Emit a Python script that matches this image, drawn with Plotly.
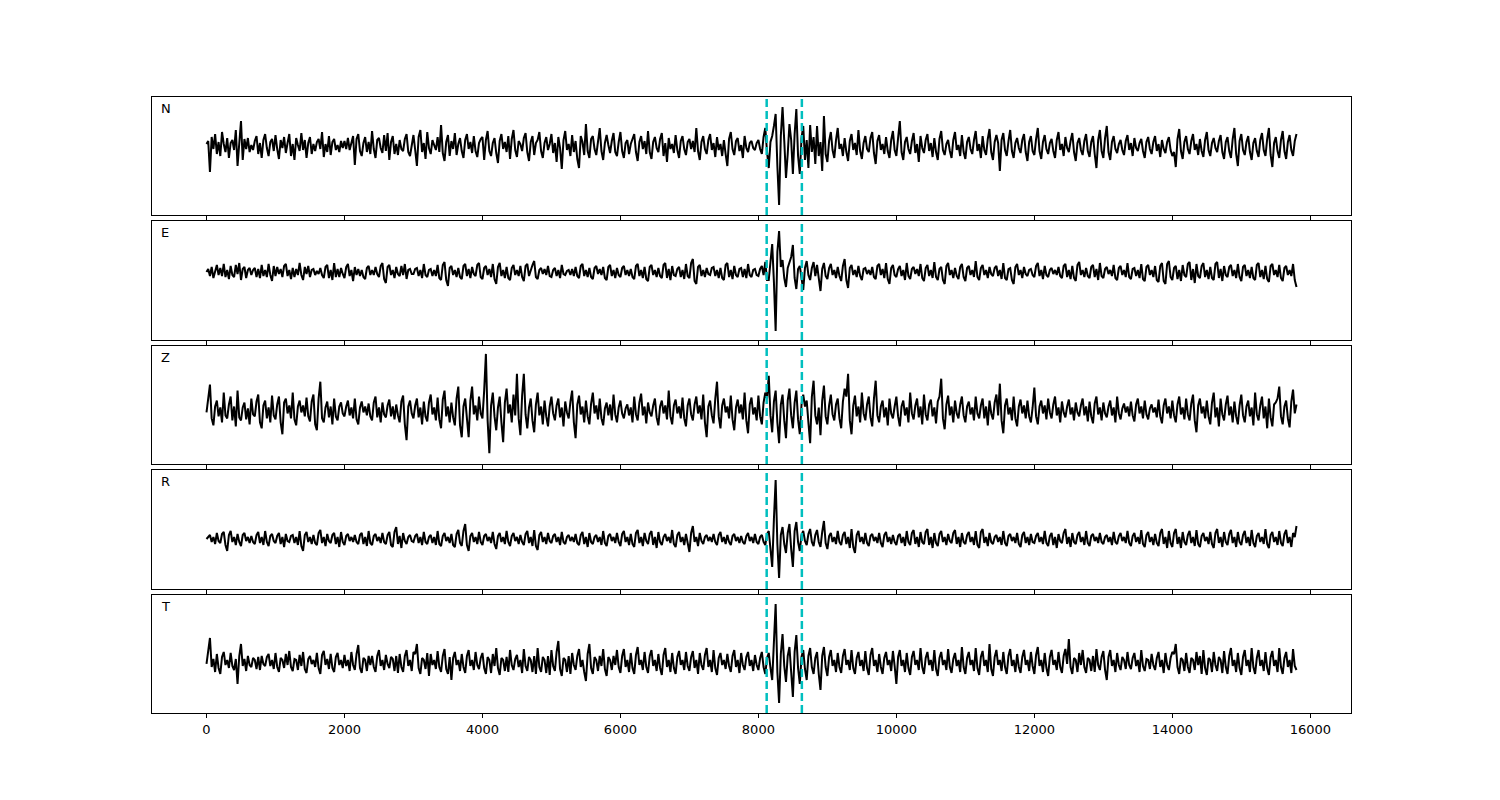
import plotly.graph_objects as go

# sample spacing of the traces (x units)
dt = 25

channels = ["N", "E", "Z", "R", "T"]

N = [2, 5, -26, 9, -3, 12, -8, 4, -10, 14, 2, -6, 8, -12, 3, 6, -4, 16, -20, 5, 25, -14, 7, -3, 8, -6, 1, -4, 5, 10, -8, 3, -12, 6, 12, -2, -10, 4, 7, -5,
     11, -3, -13, 6, -2, 9, -7, 3, 12, -10, 2, -14, 8, 1, -5, 13, -4, 6, -12, 3, 9, -8, 2, -5, 4, 7, -3, 14, -11, 2, -6, 10, -9, 4, 7, -4, 1, -6, 5, -2,
     5, -3, 8, -4, 2, 10, -19, 7, 12, -5, -10, 3, 9, -6, 4, -8, 15, -3, -12, 6, 8, -2, -7, 11, -5, 13, -14, 4, 10, -8, 2, -9, 6, -3, -5, 7, 12, -6, -10, 3,
     11, -4, -20, 9, 16, -6, 3, -13, 14, -2, -8, 6, 1, -4, 9, -6, 21, -7, -15, 4, 11, -10, 5, -3, 13, -9, 2, 8, -5, -12, 6, 12, -3, 4, -7, 10, -5, -11, 3, 7,
     9, -14, 6, 15, -5, -10, 3, 8, -7, -17, 5, 12, -3, 4, -6, 10, -13, 7, 16, -4, -11, 5, 2, -5, 8, 13, -6, -15, 4, 10, -9, 3, 6, 14, -5, -12, 3, 9, -4, 2,
     12, -7, 3, -16, 9, -2, -23, 6, 15, -4, 2, -10, 11, -6, 5, -13, -22, 10, 4, -9, 22, -5, -12, 7, 10, -3, -9, 6, 18, -5, -14, 3, 11, 1, -7, 5, 13, -6, -10, 4,
     14, -5, -12, 3, 6, -8, 2, 7, 12, -6, -15, 4, 10, -3, 5, -8, 15, -6, -13, 4, 9, -2, -6, 7, 13, -10, 3, -16, 8, -3, 2, -7, 11, -4, -12, 5, 10, -3, -9, 4,
     7, -3, 5, -6, 18, -5, -14, 4, 10, -3, -8, 6, 12, -4, 3, -11, 9, -4, 2, -10, 6, -8, -20, 7, 14, -3, -9, 5, 8, -5, 1, -12, 10, -2, -6, 3, 5, -2, -4, 3,
     6, -3, -8, 9, 18, -6, -22, 4, 10, 20, 32, -20, -59, 10, 39, 5, -32, -8, 22, 6, -28, 12, 37, -10, -28, 8, 20, -14, 6, -22, 21, -6, 9, -18, 20, -10, 4, -25, 30, -8,
     -16, 5, 14, -4, -12, 6, 18, -3, 2, -10, 8, -6, -15, 5, 12, -4, 3, -9, 16, -5, -13, 3, 10, -3, -6, 8, 14, -7, -18, 5, 11, -4, 2, -8, 9, -5, -12, 6, 15, -4,
     -10, 8, 25, -6, -14, 4, 9, -3, -8, 5, 13, -7, 2, -16, 10, -2, -7, 6, 12, -5, 3, -11, 8, -6, -14, 7, 15, -4, -9, 2, 6, -5, -12, 6, 14, -4, 1, -10, 11, -6,
     -13, 4, 9, -3, -8, 6, 15, -5, 2, -12, 10, -4, -9, 7, 17, -6, -14, 4, 11, 3, -25, 6, 13, -4, -10, 5, 16, -5, -12, 3, 8, -2, -7, 6, 12, -6, -15, 4, 10, -5,
     -9, 7, 18, -5, -13, 4, 11, -3, -8, 3, 7, -5, -12, 6, 14, -4, 2, -10, 9, -2, -6, 5, 13, -6, -15, 3, 8, -4, -9, 5, 12, -5, -11, 4, 10, -8, -22, 6, 16, -5,
     -12, 8, 20, -6, -14, 4, 10, -3, -7, 2, 6, -4, -9, 5, 11, -4, 3, -10, 8, -2, -5, 3, 7, -5, -12, 4, 9, -3, -8, 4, 10, -5, 2, -11, 6, -3, -7, 4, 9, -4,
     -10, -6, -21, 7, 17, -5, -13, 4, 10, -3, -8, 5, 12, -4, 2, -9, 7, -5, -11, 6, 14, -4, -10, 3, 8, -2, -6, 5, 11, -6, -13, 4, 9, -5, -12, 7, 18, -8, -20, 5,
     12, -4, -9, 4, 10, -6, -14, 3, 8, -5, -11, 6, 13, -4, -10, 7, 18, -9, -21, 3, 9, -5, -12, 6, 15, -5, -13, 4, 11, -4, -10, 5, 12]

E = [0, 3, -4, 5, -6, 2, 7, -3, 4, -4, 8, -5, 2, -7, 6, -3, -5, 7, -2, 9, -8, 3, 5, -6, 2, 4, -3, 2, 4, -5, 3, -6, 7, -4, 2, -5, 8, -3, -9, 6,
     -4, 5, -2, 3, -5, 6, 8, -4, 2, -7, 4, -5, 3, -3, 9, -3, -8, 5, -2, 6, -5, 2, 3, -3, 1, -2, 4, -3, -6, 5, 7, -6, 2, -8, 9, -5, 3, -5, 4, -2,
     -6, 5, 8, -4, 2, -9, 5, -3, 3, -4, 2, -5, -7, 4, 6, -3, 2, -3, 5, -2, -5, 6, 9, -7, -11, 5, 7, -3, 2, -6, 5, -2, -4, 6, -3, 8, -7, 2, 3, -2,
     -2, 3, 4, -4, 2, -6, 8, -3, -5, 2, 3, -4, 2, -4, 7, -6, -8, 7, 10, -8, -14, 4, 6, -3, 2, -5, 4, -5, -7, 6, 8, -4, 3, -6, 5, -2, -4, 7, 9, -5,
     -7, 4, 6, -3, 3, -5, 8, -7, -12, 5, 9, -4, 2, -6, 5, -6, -8, 4, 7, -3, 2, -4, 6, -5, -9, 6, 8, -4, 3, 7, 11, -5, -7, 2, 4, -2, 3, -3, 6, -4,
     -5, 2, 4, -4, 2, -6, 7, -2, -3, 1, 2, -3, 3, -4, 5, -4, -6, 6, 8, -4, 2, -5, 4, -5, -7, 4, 6, -2, 3, -3, 5, -6, -8, 5, 7, -4, 2, -6, 4, -3,
     -5, 4, 6, -3, 2, -4, 3, -5, -7, 6, 8, -4, 2, -6, 5, -7, -9, 5, 7, -3, 2, -5, 4, -4, -6, 7, 9, -6, 3, -8, 6, -3, -4, 3, 5, -5, 2, -7, 8, -4,
     -6, 9, 13, -9, -12, 5, 7, -4, 2, -5, 4, -2, -3, 4, 5, -4, 2, -6, 4, -6, -8, 7, 9, -5, 2, -7, 6, -3, -5, 3, 4, -5, 3, -6, 8, -3, -5, 2, 3, -3,
     -4, 3, 6, -3, 10, -8, -8, 12, 28, -10, -59, 20, 41, 5, 12, -6, -15, 4, 10, 15, 27, -6, -17, 3, 6, -5, -18, 4, 11, -3, -8, 4, 10, -4, 7, -6, -19, 3, 9, -4,
     -7, 4, 8, -3, 2, -6, 5, -4, -9, 6, 13, -8, -16, 4, 7, -3, 2, -5, 6, -4, -8, 3, 4, -2, 2, -3, 5, -5, -7, 6, 8, -3, 3, -6, 9, -7, -12, 4, 7, -3,
     -5, 3, 6, -4, 2, -8, 9, -4, -7, 3, 5, -2, 3, -4, 8, -6, -9, 4, 7, -4, 2, -6, 10, -5, -8, 3, 5, -8, -12, 6, 9, -3, 2, -6, 4, -4, -7, 5, 8, -5,
     -9, 4, 6, -3, 2, -5, 11, -5, -8, 4, 7, -3, 2, -6, 5, -2, -4, 4, 6, -4, 2, -7, 9, -6, -8, 3, 4, -8, -12, 5, 8, -3, 2, -6, 5, -2, -4, 2, 3, -3,
     -5, 6, 9, -4, 2, -7, 6, -3, -5, 2, 4, -2, 2, -3, 5, -4, -6, 6, 8, -5, 2, -7, 6, -6, -9, 7, 10, -3, 2, -5, 4, -4, -6, 5, 7, -5, 3, -8, 9, -4,
     -6, 3, 5, -2, 2, -4, 7, -6, -8, 4, 6, -3, 2, -5, 9, -5, -7, 3, 4, -4, 2, -6, 8, -7, -9, 5, 7, -3, 2, -5, 6, -8, -10, 6, 9, -9, -12, 8, 11, -5,
     -8, 4, 6, -7, 2, -9, 7, -3, -5, 8, 10, -8, 3, -11, 8, -4, -6, 6, 9, -5, 2, -7, 5, -6, -8, 8, 10, -6, 3, -9, 6, -3, -5, 5, 7, -4, 2, -6, 8, -5,
     -9, 5, 7, -4, 2, -6, 5, -6, -8, 7, 9, -5, 2, -7, 6, -7, -10, 6, 8, -3, 2, -5, 7, -6, -9, 4, 6, -3, 2, -4, 8, -8, -15]

Z = [-2, 10, 26, -8, -15, 4, 10, -6, 3, -12, 18, -5, -8, 6, 14, -10, 4, -16, 20, -7, -10, 3, 8, -9, 2, -14, 12, -4, -6, 9, 16, -12, -18, 5, 10, -8, 3, -12, 15, -5,
     -9, 6, 14, -12, -24, 8, 12, -3, 5, -8, 18, -9, -15, 4, 10, -2, 5, -6, 13, -6, -11, 9, 16, -14, -20, 12, 29, -8, -12, 3, 9, -7, 4, -14, 12, -6, -10, 4, 8, -3,
     -6, 4, 10, -5, 3, -8, 12, -9, -14, 3, 9, -2, 4, -5, 7, -6, -10, 8, 14, -7, 3, -12, 8, -4, -7, 5, 11, -6, 4, -9, 6, -5, -12, 9, 15, -14, -30, 4, 10, -3,
     -8, 5, 12, -7, 3, -14, 9, -6, -11, 8, 16, -4, 3, -10, 13, -9, -18, 11, 20, -6, 4, -12, 8, -7, -15, 12, 24, -15, -27, 4, 12, -8, -27, 10, 24, -4, 5, -10, 14, -3,
     -8, 20, 57, -10, -43, 5, 18, -6, -20, 3, 14, -12, -32, 8, 22, -3, 6, -12, 16, -5, 37, -8, -25, 15, 37, -4, -18, 3, 12, -10, -22, 6, 18, -5, 4, -14, 10, -6, -16, 4,
     14, -3, -10, 5, 12, -7, 3, -16, 9, -2, -8, 9, 20, -12, -28, 6, 15, -4, 4, -12, 10, -6, -14, 7, 18, -3, 5, -9, 12, -8, -15, 2, 8, -5, 6, -10, 16, -4, -12, 3,
     10, -3, -8, 2, 6, -5, 3, -12, 14, -4, -10, 8, 17, -5, 4, -13, 8, -2, -6, 5, 12, -7, -15, 4, 10, -3, 5, -9, 20, -6, -14, 5, 11, -3, 4, -8, 13, -8, -16, 5,
     12, -4, -10, 6, 14, -3, 5, -9, 16, -12, -27, 4, 10, -5, -13, 12, 29, -6, -18, 5, 12, -2, 4, -8, 15, -9, -20, 3, 11, -3, 6, -9, 18, -10, -23, 6, 13, -4, 3, -10,
     15, -6, -14, 8, 18, 12, 35, -5, -22, 9, 20, -12, -33, 6, 16, -10, -28, 10, 22, -5, -18, 8, 20, -9, -24, 6, 16, 4, 10, -12, -33, 14, 30, -5, -14, 3, -25, 10, 25, -6,
     -14, 5, 16, -4, -10, 6, 12, -8, -18, 9, 22, 14, 37, -10, -24, 5, 15, -6, 4, -12, 18, -3, -10, 6, 14, -7, -16, 12, 30, -5, -12, 4, 10, -7, 3, -15, 12, -3, -8, 4,
     14, -6, -16, 4, 10, -5, 3, -12, 18, -3, -9, 5, 12, -7, 4, -14, 16, -4, -10, 6, 11, -6, 3, -13, 9, 14, 32, -8, -19, 6, 15, -5, 4, -12, 10, -3, -8, 6, 14, -5,
     -12, 4, 9, -4, 3, -10, 14, -3, -8, 5, 12, -8, 4, -15, 10, -3, -9, 8, 16, -5, 27, -10, -23, 5, 12, -4, 3, -10, 14, -8, -16, 4, 11, -3, 5, -8, 10, -6, -12, 3,
     23, -6, -14, 4, 10, -3, 5, -9, 12, -2, -8, 6, 14, -5, 3, -12, 9, -2, -7, 4, 11, -4, 3, -10, 8, -2, -6, 5, 12, -5, 4, -11, 9, -6, -13, 7, 14, -4, 3, -10,
     8, -3, -7, 4, 10, -5, 3, -12, 14, -3, -9, 2, 7, -2, 4, -6, 9, -5, -11, 6, 12, -3, 4, -8, 10, -4, -9, 2, 6, -2, 3, -7, 11, -6, -13, 5, 12, -3, 4, -8,
     10, -5, -12, 6, 14, -4, 3, -9, 12, -4, -10, 7, 16, -10, -22, 5, 12, -3, 4, -8, 10, -6, -14, 8, 18, -7, 3, -16, 12, -4, -10, 6, 15, -5, 4, -12, 9, -6, -14, 5,
     16, -5, -12, 4, 10, -6, 3, -15, 18, -4, -10, 5, 14, -8, 4, -18, 12, -7, -16, 6, 8, 12, 24, -6, -14, 4, 10, -8, -17, 9, 21, -3, 6]

R = [0, 2, 4, -3, 2, -5, 6, -2, -4, 5, 7, -6, -12, 4, 8, -3, 2, -6, 5, -3, -7, 4, 6, -2, 2, -4, 3, -3, -5, 4, 7, -4, 2, -6, 8, -3, -7, 3, 5, -2,
     -4, 3, 6, -5, 2, -8, 5, -2, -3, 3, 4, -4, 2, -6, 8, -7, -12, 4, 7, -3, 2, -5, 4, -4, -6, 6, 9, -4, 2, -7, 5, -2, -4, 4, 6, -5, 2, -8, 7, -3,
     -6, 3, 5, -2, 2, -3, 4, -3, -5, 4, 6, -5, 2, -7, 8, -4, -6, 3, 5, -2, 2, -4, 6, -3, -5, 4, 7, -6, -8, 7, 12, -5, 3, -9, 6, -2, -5, 2, 4, -2,
     -3, 3, 5, -4, 2, -6, 7, -3, -5, 2, 4, -4, 2, -6, 8, -5, -7, 3, 6, -2, 2, -4, 5, -6, -8, 5, 9, -4, -7, 8, 15, -6, -12, 3, 6, -3, 2, -5, 7, -3,
     -6, 3, 5, -2, 2, -4, 7, -5, -10, 3, 6, -3, 2, -5, 8, -3, -7, 3, 6, -2, 2, -5, 4, -3, -6, 5, 8, -4, 2, -7, 9, -7, -11, 4, 7, -3, 2, -5, 6, -2,
     -4, 3, 5, -3, 2, -6, 7, -3, -5, 2, 4, -2, 2, -3, 5, -4, -6, 4, 7, -5, 2, -8, 6, -3, -5, 2, 4, -3, 2, -6, 8, -4, -7, 3, 5, -2, 2, -4, 6, -3,
     -7, 5, 8, -3, 2, -6, 5, -5, -8, 6, 9, -4, 2, -7, 6, -2, -5, 5, 8, -6, 2, -9, 7, -3, -6, 2, 5, -2, 2, -4, 9, -5, -8, 4, 7, -3, 2, -6, 5, -4,
     -13, 6, 13, -3, 2, -7, 6, -2, -5, 2, 4, -2, 2, -3, 5, -3, -6, 4, 7, -3, 2, -5, 4, -3, -6, 3, 5, -2, 2, -4, 3, -3, -5, 3, 6, -2, 2, -4, 5, -3,
     -5, 2, 4, -3, -6, 5, 8, -10, -28, 20, 59, -5, -39, 4, 12, -5, -14, 6, 15, -10, -28, 8, 17, -3, -12, 4, 8, -2, -6, 5, 10, -3, -7, 4, 9, -3, -8, 7, 18, -4,
     -10, 3, 6, -3, 2, -5, 8, -3, -6, 4, 7, -5, 2, -9, 10, -8, -14, 4, 8, -3, 2, -5, 6, -4, -7, 3, 5, -2, 2, -4, 6, -4, -8, 4, 7, -3, 2, -5, 4, -3,
     -6, 3, 5, -4, 2, -7, 8, -3, -6, 6, 9, -5, 2, -8, 7, -3, -5, 7, 10, -6, 2, -9, 6, -4, -7, 5, 8, -3, 2, -6, 5, -2, -4, 6, 9, -5, 2, -8, 6, -3,
     -5, 4, 7, -3, 2, -6, 8, -6, -9, 7, 10, -4, 2, -7, 6, -3, -5, 2, 4, -3, 2, -6, 8, -4, -7, 3, 5, -2, 2, -4, 6, -5, -8, 4, 7, -4, 2, -6, 5, -3,
     -4, 3, 6, -3, 2, -5, 8, -4, -7, 3, 6, -6, 2, -9, 5, -2, -4, 6, 10, -5, 2, -8, 6, -3, -5, 4, 7, -3, 2, -6, 8, -4, -7, 3, 5, -2, 2, -4, 6, -3,
     -5, 2, 4, -3, 2, -6, 7, -3, -5, 3, 6, -2, 2, -4, 8, -4, -7, 3, 6, -3, 2, -5, 9, -5, -8, 4, 7, -3, 2, -6, 5, -4, -7, 6, 10, -5, 2, -9, 8, -4,
     -8, 6, 10, -5, 2, -9, 7, -3, -6, 4, 8, -4, 2, -7, 9, -5, -8, 3, 6, -2, 2, -5, 7, -5, -9, 6, 10, -4, 2, -8, 7, -3, -6, 5, 9, -4, 2, -8, 7, -3,
     -6, 4, 8, -4, 2, -7, 9, -4, -8, 3, 6, -3, 2, -5, 10, -5, -9, 4, 7, -3, 2, -6, 8, -4, -7, 5, 9, -4, 2, -8, 6, 2, 13]

T = [-2, 10, 24, -5, 3, -10, 8, -6, -12, 5, 10, -3, 2, -6, 9, -4, -8, 3, -22, 6, 18, -4, 3, -9, 6, -3, -5, 4, 2, -7, 5, -8, 6, -2, -4, 5, 8, -4, 2, -7,
     9, -5, -10, 4, 2, -6, 8, -3, 11, -5, -9, 3, 2, -8, 7, -4, 10, -7, -11, 3, 6, -2, 2, -5, 9, -6, -12, 7, 11, -3, 3, -7, 8, -6, -10, 5, 9, -3, 2, -6,
     7, -4, 2, -9, 10, -3, -8, 8, 17, -6, -11, 4, 2, -9, 6, -3, 6, -5, -10, 6, 12, -4, 2, -8, 7, -2, -6, 5, 3, -9, 6, -11, 8, -5, -10, 6, 12, -4, 2, -9,
     10, 8, 18, -6, -12, 4, 2, -7, 9, -14, 8, -3, 2, -7, 11, -5, -10, 6, 13, -7, -12, 5, -18, 4, 10, -3, 2, -9, 8, -5, -11, 6, 12, -4, 2, -8, 10, -3, -7, 4,
     9, -6, -12, 5, 2, -11, 8, -4, 14, -6, -13, 4, 2, -9, 5, -10, 12, -3, -8, 3, 7, -5, 2, -11, 13, -4, -9, 5, 2, -10, 6, -12, 14, -5, -10, 5, 2, -11, 6, -13,
     12, -4, -9, 10, 21, -7, -14, 4, 2, -10, 6, -12, 9, -3, -8, 6, 13, -5, 2, -10, -19, 8, 18, -6, -12, 5, 2, -9, 6, -4, 13, -7, -14, 5, 2, -8, 6, -3, 12, -5,
     -11, 6, 13, -5, 2, -10, 9, -6, -12, 7, 15, -3, 2, -8, 10, -5, -11, 6, 12, -4, 2, -9, 8, -6, -13, 7, 14, -5, 2, -10, 9, -6, -12, 5, 11, -3, 2, -8, 10, -4,
     -9, 5, 11, -6, 2, -12, 9, -3, -8, 7, 14, -5, 2, -10, 12, -6, -13, 4, 9, -3, 2, -7, 8, -4, -10, 6, 12, -5, 2, -11, 9, -3, -8, 5, 10, -4, 2, -9, 7, -3,
     -8, 4, 10, -5, -12, 4, 9, -6, -18, 20, 58, -10, -41, 8, 28, -4, -20, 6, 15, -10, -35, 10, 27, -6, -22, 5, 12, -7, -18, 6, 14, -5, -12, 4, 10, -12, -28, 6, 15, -5,
     -14, 5, 12, -4, 2, -10, 9, -5, -11, 6, 13, -3, 2, -8, 12, -6, -12, 4, 10, -4, 2, -9, 11, -6, -13, 7, 14, -4, 2, -10, 8, -5, -12, 4, 10, -3, 2, -9, 11, -4,
     -22, 5, 12, -4, 2, -10, 9, -6, -13, 5, 11, -3, 2, -8, 14, -5, -12, 4, 10, -3, 2, -9, 12, -7, -14, 4, 10, -3, 2, -8, 13, -5, -11, 3, 9, -4, 2, -10, 15, -5,
     -12, 4, 10, -3, 2, -9, 14, -6, -13, 5, 11, -4, 2, -10, 18, -7, -14, 5, 12, -3, 2, -9, 10, -5, -12, 6, 13, -4, 2, -10, 8, -5, -11, 5, 12, -3, 2, -9, 10, -4,
     -12, 7, 15, -4, 2, -10, 9, -6, -14, 5, 12, -3, 2, -8, 10, -5, -11, 6, 13, -2, 23, -5, -12, 4, 2, -10, 9, -3, 12, -5, -11, 4, 2, -9, 6, -10, 13, -3, -8, 5,
     11, -8, -18, 5, 12, -4, 2, -10, 9, -3, -8, 5, 2, -7, 10, -3, -7, 4, 9, -4, 2, -10, 12, -4, -9, 3, 2, -7, 8, -3, -8, 4, 10, -5, 2, -11, 9, -3, -8, 4,
     10, 8, 18, -5, -12, 4, 2, -9, 9, -5, -11, 4, 2, -8, 10, -3, 6, -12, 12, -6, -13, 4, 2, -10, 10, -3, -9, 5, 2, -11, 11, -5, -12, 6, 14, -4, 2, -10, 9, -6,
     -13, 5, 12, -4, 2, -10, 14, -5, -12, 4, 12, -4, 2, -9, 10, -6, -13, 5, 11, -4, 2, -10, 14, -5, -12, 4, 10, -5, 2, -11, 13, -4, -8]

series = [N, E, Z, R, T]

# picked phase markers (x units)
picks = [8120, 8630]

x_ticks = [0, 2000, 4000, 6000, 8000, 10000, 12000, 14000, 16000]
x_tick_text = ["0", "2000", "4000", "6000", "8000", "10000", "12000", "14000", "16000"]

# ---- layout constants (panel placement / axis limits) ----
y_ranges = [[-69, 49], [-68, 51], [-54, 65], [-50, 69], [-51, 67]]
domains = [[0.8084, 1.0], [0.6055, 0.7987], [0.4042, 0.5958], [0.2013, 0.3945], [0.0, 0.1916]]
x_range = [-790, 16590]

fig = go.Figure()
layout = dict(
    width=1500, height=800,
    margin=dict(l=144, r=157, t=89, b=95),
    paper_bgcolor="white", plot_bgcolor="white",
    showlegend=False,
    font=dict(family="DejaVu Sans", size=13, color="black"),
)
shapes = []
annotations = []
for i, (name, vals) in enumerate(zip(channels, series)):
    k = "" if i == 0 else str(i + 1)
    xs = [j * dt for j in range(len(vals))]
    fig.add_trace(go.Scatter(x=xs, y=vals, mode="lines",
                             line=dict(color="black", width=2),
                             xaxis="x" + k, yaxis="y" + k, hoverinfo="skip"))
    layout["xaxis" + k] = dict(
        domain=[0, 1], anchor="y" + k, range=x_range,
        tickmode="array", tickvals=x_ticks, ticktext=x_tick_text,
        showticklabels=(i == 4), ticks="outside", ticklen=4, tickwidth=1,
        tickcolor="black", showgrid=False, zeroline=False,
        showline=True, linecolor="black", linewidth=1, mirror=True,
        tickfont=dict(size=13, family="DejaVu Sans", color="black"),
        matches="x" if i > 0 else None,
    )
    layout["yaxis" + k] = dict(
        domain=domains[i], anchor="x" + k, range=y_ranges[i],
        showticklabels=False, ticks="", showgrid=False, zeroline=False,
        showline=True, linecolor="black", linewidth=1, mirror=True,
    )
    for p in picks:
        shapes.append(dict(type="line", xref="x" + k, yref="y" + k + " domain",
                           x0=p, x1=p, y0=0, y1=1,
                           line=dict(color="#00BFBF", width=2.5, dash="8px,4px")))
    annotations.append(dict(text=name, xref="x" + k + " domain", yref="y" + k + " domain",
                            x=0.006, y=0.9, xanchor="left", yanchor="middle",
                            showarrow=False, font=dict(size=13, family="DejaVu Sans", color="black")))

layout["shapes"] = shapes
layout["annotations"] = annotations
fig.update_layout(**layout)
fig.write_html("out.html")
